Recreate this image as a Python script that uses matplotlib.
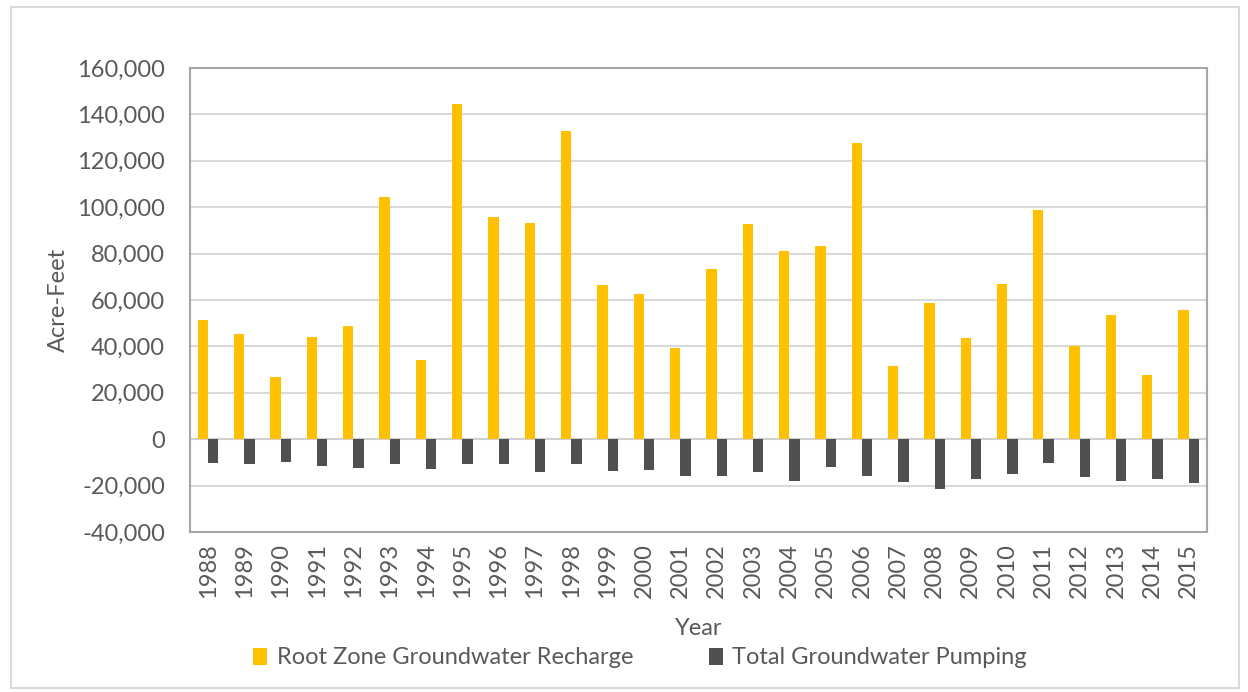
import numpy as np
import matplotlib
matplotlib.use('Agg')
import matplotlib.pyplot as plt
from matplotlib.patches import Rectangle
from matplotlib.ticker import FuncFormatter

plt.rcParams['font.family'] = ['Lato', 'DejaVu Sans']

# Data (acre-feet)
years = list(range(1988, 2016))
recharge = [51300, 45400, 26700, 44100, 48700, 104400, 34200, 144400, 95900, 93000,
            133000, 66600, 62500, 39500, 73300, 92900, 81000, 83400, 127700, 31600,
            58800, 43700, 66900, 98900, 40300, 53600, 27800, 55500]
pumping = [-10400, -10600, -9900, -11500, -12400, -10600, -12700, -10600, -10600, -14200,
           -10500, -13700, -13100, -16000, -16000, -14000, -18100, -11900, -15800, -18600,
           -21400, -17300, -15100, -10200, -16500, -18000, -17000, -19000]

text_col = '#595959'

fig = plt.figure(figsize=(12.48, 6.92), dpi=100)
ax = fig.add_axes([0.1522, 0.2312, 0.8149, 0.6705])

x = np.arange(len(years))
w = 0.285
ax.bar(x - w / 2, recharge, width=w, color='#FFC000', label='Root Zone Groundwater Recharge', zorder=3)
ax.bar(x + w / 2, pumping, width=w, color='#505050', label='Total Groundwater Pumping', zorder=3)

ax.set_xlim(-0.5, len(years) - 0.5)
ax.set_ylim(-40000, 160000)
ax.set_yticks(range(-40000, 160001, 20000))
ax.yaxis.set_major_formatter(FuncFormatter(lambda v, p: f'{int(v):,}'))
ax.set_xticks(x)
ax.set_xticklabels([str(y) for y in years], rotation=90)

ax.grid(axis='y', color='#D9D9D9', linewidth=1.5, zorder=0)
ax.axhline(0, color='#D0D0D0', linewidth=1.5, zorder=2)
for s in ax.spines.values():
    s.set_color('#A6A6A6')
    s.set_linewidth(1.5)

ax.tick_params(axis='y', length=0, pad=18, labelsize=17, labelcolor=text_col)
ax.tick_params(axis='x', length=0, pad=8, labelsize=17, labelcolor=text_col)

ax.set_ylabel('Acre-Feet', fontsize=17, color=text_col, labelpad=6)
ax.set_xlabel('Year', fontsize=17, color=text_col, labelpad=14)

fig.legend(loc='center', bbox_to_anchor=(640 / 1248, 1 - 658 / 692), ncol=2, frameon=False,
           fontsize=17, labelcolor=text_col, handlelength=0.6, handleheight=0.7,
           handletextpad=0.4, columnspacing=3.2)

# light border around the whole chart
fig.patches.append(Rectangle((11 / 1248, 4 / 692), 1228 / 1248, 681 / 692, transform=fig.transFigure,
                             fill=False, edgecolor='#D9D9D9', linewidth=1.5))

fig.savefig('out.png', dpi=100)
